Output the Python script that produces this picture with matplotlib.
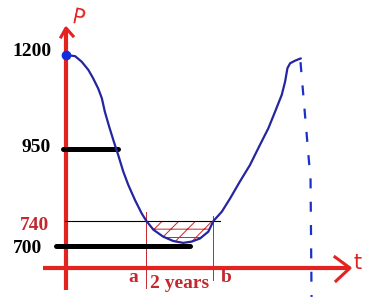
import numpy as np
import matplotlib
matplotlib.use("Agg")
import matplotlib.pyplot as plt

# price curve P(t), t in years
curve_t = [0, 0.27, 0.47, 0.67, 0.81, 0.96, 1.07, 1.16, 1.29, 1.43, 1.56, 1.71, 1.86,
           2.06, 2.26, 2.4, 2.61, 2.9, 3.2, 3.5, 3.75, 4.0, 4.25, 4.4, 4.65, 4.9,
           5.19, 5.49, 5.79, 6.04, 6.24, 6.44, 6.54, 6.61, 6.69, 6.84, 7.01]
curve_p = [1200, 1197, 1182, 1160, 1138, 1111, 1085, 1049, 1009, 969, 932, 884, 845,
           801, 762, 740, 726, 715, 708, 705, 707, 712, 723, 740, 767, 806,
           855, 903, 961, 1005, 1049, 1094, 1129, 1165, 1178, 1185, 1191]

# the dashed continuation on the right
dash_t = [7.0, 7.3, 7.33]
dash_p = [1181, 860, 566]

tick_values = [1200, 950, 740, 700]
tick_labels = ["1200", "950", "740", "700"]

# level lines: thick ones at 950 and 700, thin one at 740
level_p = [950, 700]
level_start = [-0.09, -0.3]
level_end = [1.55, 3.7]
thin_p = 740
thin_start = -0.03
thin_end = 4.6

a_t = 2.4
b_t = 4.4
span_label = "2 years"

RED = "#e3231f"
DARK_RED = "#c4282e"
BLUE = "#25259f"

# the hand drawn P axis is not linear, map the labelled values to where they sit
scale_p = [400, 700, 740, 950, 1200, 1500]
scale_px = [360, 246, 221, 149, 55, -58]
H = 308
PX = 33.5  # pixels per year
fwd_vals = [H - v for v in scale_px]

def fwd(p):
    return np.interp(p, scale_p, fwd_vals)

def inv(v):
    return np.interp(v, fwd_vals, scale_p)

def px_t(x):
    return (x - 66) / PX

def px_p(y):
    return inv(H - y)

def draw_axes(ax):
    axis_p = px_p(268)
    # t axis
    ax.plot([px_t(43), px_t(350)], [axis_p, axis_p], color=RED, lw=3, solid_capstyle="butt")
    ax.plot([px_t(335), px_t(350), px_t(336)], [px_p(257), axis_p, px_p(281)], color=RED, lw=2.2)
    ax.text(px_t(358), px_p(263), "t", color=RED, fontsize=15,
            ha="center", va="center", family="DejaVu Sans")
    # P axis
    ax.plot([0, 0], [px_p(290), px_p(28)], color=RED, lw=3, solid_capstyle="butt")
    ax.plot([px_t(61), 0, px_t(73)], [px_p(37), px_p(28), px_p(36)], color=RED, lw=2.2)
    ax.text(px_t(78), px_p(18), "P", color=RED, fontsize=15, rotation=-12,
            ha="center", va="center", family="DejaVu Sans")

def draw_levels(ax):
    for p, s, e in zip(level_p, level_start, level_end):
        ax.plot([s, e], [p, p], color="black", lw=3.6, solid_capstyle="round", zorder=3)
    ax.plot([thin_start, thin_end], [thin_p, thin_p], color="black", lw=0.8, zorder=3)

def draw_labels(ax):
    right_px = [52, 51, 49, 42]
    for v, lab, r in zip(tick_values, tick_labels, right_px):
        c = DARK_RED if v == thin_p else "black"
        dy = {1200: -4, 740: 4, 700: 2}.get(v, -2)
        ax.text(px_t(r), inv(fwd(v) - dy), lab, color=c, fontsize=14,
                fontweight="bold", family="Liberation Serif", ha="right", va="center")
    lab_p = px_p(278)
    ax.text(a_t - 13 / PX, lab_p, "a", color=DARK_RED, fontsize=14,
            fontweight="bold", family="Liberation Serif", ha="center", va="center")
    ax.text(b_t + 13 / PX, lab_p, "b", color=DARK_RED, fontsize=14,
            fontweight="bold", family="Liberation Serif", ha="center", va="center")
    ax.text((a_t + b_t) / 2, px_p(284), span_label, color=DARK_RED, fontsize=14,
            fontweight="bold", family="Liberation Serif", ha="center", va="center")

def main():
    plt.rcParams["hatch.linewidth"] = 0.7
    fig = plt.figure(figsize=(3.68, 3.08), dpi=100)
    ax = fig.add_axes([0, 0, 1, 1])
    ax.set_yscale("function", functions=(fwd, inv))
    ax.set_xlim(px_t(0), px_t(368))
    ax.set_ylim(inv(0), inv(H))
    ax.axis("off")

    t = np.array(curve_t)
    p = np.array(curve_p)

    # hatched area between 740 and the curve over the 2 years
    ax.fill_between(t, p, thin_p, where=(t >= a_t) & (t <= b_t), facecolor="none",
                    edgecolor=DARK_RED, hatch="//--", lw=0, zorder=1)
    ax.plot([a_t, a_t], [px_p(288), px_p(212)], color=DARK_RED, lw=0.7, zorder=2)
    ax.plot([b_t, b_t], [px_p(280), px_p(216)], color=DARK_RED, lw=0.7, zorder=2)

    draw_axes(ax)
    draw_levels(ax)

    ax.plot(t, p, color=BLUE, lw=1.6, zorder=4, solid_capstyle="round", solid_joinstyle="round")
    ax.plot(dash_t, dash_p, color="#1a30c8", lw=1.6, dashes=(4.5, 6), zorder=4)
    ax.plot([0], [1200], "o", color="#1030e0", ms=6, zorder=5)

    draw_labels(ax)

    fig.savefig("out.png", dpi=100, facecolor="white")

if __name__ == "__main__":
    main()
